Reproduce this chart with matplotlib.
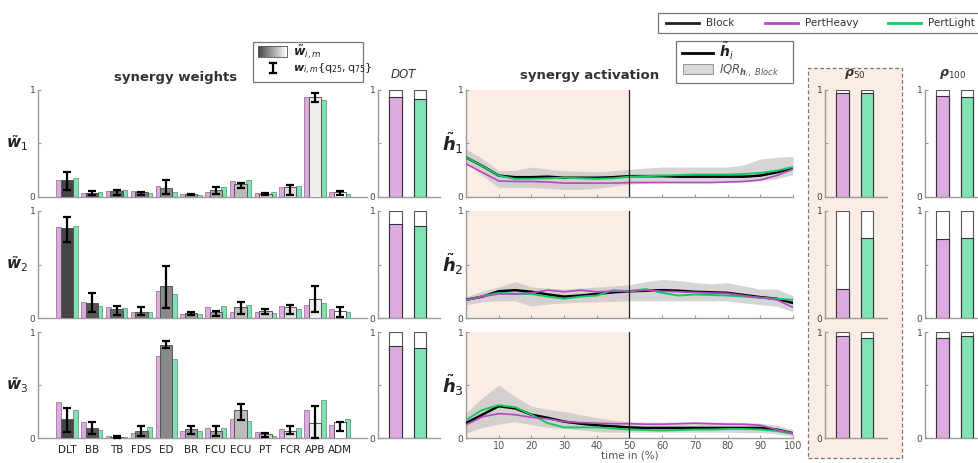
import numpy as np
import matplotlib.pyplot as plt
from matplotlib.patches import Rectangle
from matplotlib.lines import Line2D

plt.rcParams['font.family'] = 'DejaVu Sans'
plt.rcParams['mathtext.fontset'] = 'custom'
plt.rcParams['mathtext.bf'] = 'DejaVu Sans:bold:italic'
plt.rcParams['mathtext.it'] = 'DejaVu Sans:italic'
plt.rcParams['mathtext.rm'] = 'DejaVu Sans'

# ---- data ----
muscles = ["DLT", "BB", "TB", "FDS", "ED", "BR", "FCU", "ECU", "PT", "FCR", "APB", "ADM"]

# synergy weights (rows = synergy 1..3)
w_block = [
    [0.16, 0.04, 0.06, 0.045, 0.08, 0.025, 0.07, 0.12, 0.03, 0.09, 0.93, 0.045],
    [0.84, 0.14, 0.08, 0.06, 0.30, 0.05, 0.06, 0.10, 0.07, 0.10, 0.18, 0.07],
    [0.18, 0.09, 0.01, 0.065, 0.875, 0.085, 0.07, 0.26, 0.04, 0.07, 0.14, 0.15],
]
w_q25 = [
    [0.07, 0.02, 0.02, 0.02, 0.03, 0.015, 0.03, 0.08, 0.02, 0.02, 0.89, 0.015],
    [0.71, 0.06, 0.03, 0.03, 0.09, 0.03, 0.015, 0.04, 0.035, 0.04, 0.06, 0.01],
    [0.06, 0.04, 0.004, 0.015, 0.85, 0.04, 0.02, 0.17, 0.01, 0.04, 0.0, 0.07],
]
w_q75 = [
    [0.23, 0.06, 0.07, 0.05, 0.16, 0.03, 0.09, 0.13, 0.04, 0.11, 0.97, 0.06],
    [0.94, 0.23, 0.11, 0.10, 0.49, 0.06, 0.07, 0.15, 0.08, 0.12, 0.30, 0.10],
    [0.28, 0.155, 0.015, 0.11, 0.915, 0.115, 0.11, 0.32, 0.05, 0.11, 0.30, 0.15],
]
w_heavy = [
    [0.16, 0.04, 0.06, 0.055, 0.10, 0.03, 0.05, 0.15, 0.04, 0.09, 0.93, 0.05],
    [0.85, 0.15, 0.10, 0.06, 0.25, 0.04, 0.10, 0.06, 0.055, 0.11, 0.125, 0.08],
    [0.34, 0.15, 0.015, 0.045, 0.77, 0.07, 0.09, 0.18, 0.055, 0.085, 0.265, 0.125],
]
w_light = [
    [0.18, 0.05, 0.07, 0.04, 0.05, 0.02, 0.09, 0.16, 0.05, 0.10, 0.91, 0.03],
    [0.86, 0.11, 0.09, 0.06, 0.22, 0.04, 0.11, 0.125, 0.05, 0.08, 0.14, 0.055],
    [0.26, 0.08, 0.008, 0.10, 0.75, 0.07, 0.09, 0.165, 0.02, 0.09, 0.36, 0.18],
]

# similarity bars (PertHeavy, PertLight)
dot_vals = [[0.93, 0.92], [0.875, 0.856], [0.866, 0.85]]
rho50_vals = [[0.97, 0.97], [0.27, 0.75], [0.96, 0.94]]
rho100_vals = [[0.94, 0.93], [0.74, 0.75], [0.94, 0.96]]

# synergy activation, sampled every 5 %
time_pct = [0, 5, 10, 15, 20, 25, 30, 35, 40, 45, 50, 55, 60, 65, 70, 75, 80, 85, 90, 95, 100]
h_block = [
    [0.37, 0.29, 0.20, 0.185, 0.185, 0.19, 0.18, 0.18, 0.18, 0.185, 0.195, 0.195, 0.195, 0.19, 0.19, 0.19, 0.19, 0.19, 0.20, 0.23, 0.27],
    [0.17, 0.20, 0.25, 0.26, 0.245, 0.22, 0.20, 0.21, 0.225, 0.24, 0.25, 0.255, 0.26, 0.255, 0.245, 0.24, 0.235, 0.215, 0.195, 0.18, 0.14],
    [0.14, 0.22, 0.30, 0.28, 0.22, 0.19, 0.155, 0.135, 0.12, 0.11, 0.10, 0.095, 0.095, 0.095, 0.095, 0.095, 0.095, 0.095, 0.095, 0.08, 0.045],
]
h_heavy = [
    [0.31, 0.23, 0.15, 0.145, 0.145, 0.14, 0.13, 0.13, 0.13, 0.13, 0.135, 0.135, 0.135, 0.135, 0.135, 0.135, 0.14, 0.145, 0.16, 0.20, 0.26],
    [0.17, 0.20, 0.225, 0.225, 0.235, 0.26, 0.245, 0.26, 0.245, 0.25, 0.25, 0.26, 0.25, 0.245, 0.24, 0.235, 0.23, 0.21, 0.19, 0.17, 0.10],
    [0.125, 0.20, 0.23, 0.22, 0.195, 0.18, 0.155, 0.145, 0.14, 0.135, 0.135, 0.13, 0.13, 0.135, 0.14, 0.135, 0.13, 0.13, 0.12, 0.08, 0.045],
]
h_light = [
    [0.37, 0.29, 0.20, 0.17, 0.17, 0.175, 0.18, 0.175, 0.17, 0.175, 0.19, 0.195, 0.20, 0.205, 0.21, 0.21, 0.21, 0.215, 0.225, 0.245, 0.28],
    [0.165, 0.205, 0.235, 0.225, 0.225, 0.20, 0.18, 0.20, 0.21, 0.26, 0.25, 0.27, 0.235, 0.21, 0.22, 0.215, 0.21, 0.20, 0.19, 0.18, 0.17],
    [0.17, 0.265, 0.31, 0.29, 0.22, 0.14, 0.10, 0.10, 0.10, 0.09, 0.08, 0.075, 0.07, 0.075, 0.08, 0.08, 0.085, 0.085, 0.08, 0.065, 0.04],
]
iqr_lo = [
    [0.32, 0.20, 0.09, 0.09, 0.09, 0.08, 0.07, 0.07, 0.08, 0.10, 0.12, 0.13, 0.135, 0.14, 0.14, 0.14, 0.14, 0.14, 0.15, 0.17, 0.21],
    [0.125, 0.15, 0.16, 0.16, 0.11, 0.13, 0.14, 0.15, 0.15, 0.155, 0.16, 0.16, 0.16, 0.16, 0.16, 0.16, 0.16, 0.14, 0.125, 0.11, 0.06],
    [0.045, 0.10, 0.13, 0.155, 0.125, 0.10, 0.09, 0.075, 0.06, 0.055, 0.055, 0.055, 0.055, 0.055, 0.055, 0.055, 0.055, 0.05, 0.05, 0.04, 0.015],
]
iqr_hi = [
    [0.45, 0.36, 0.245, 0.25, 0.28, 0.26, 0.245, 0.24, 0.235, 0.245, 0.26, 0.27, 0.28, 0.28, 0.28, 0.28, 0.28, 0.30, 0.355, 0.37, 0.38],
    [0.20, 0.25, 0.29, 0.34, 0.29, 0.28, 0.27, 0.28, 0.29, 0.30, 0.31, 0.34, 0.36, 0.35, 0.33, 0.32, 0.33, 0.30, 0.27, 0.27, 0.21],
    [0.235, 0.38, 0.50, 0.39, 0.30, 0.27, 0.25, 0.22, 0.19, 0.17, 0.155, 0.15, 0.15, 0.15, 0.15, 0.15, 0.15, 0.145, 0.14, 0.12, 0.08],
]

# ---- styles ----
C_HEAVY = "#b448c6"
C_LIGHT = "#17c766"
F_HEAVY = "#dcaade"
F_LIGHT = "#7fe3b3"
PEACH = "#fbece5"
SPINE = "#9a9a9a"
TXT = "#444444"

W, H = 979, 463
fig = plt.figure(figsize=(W / 100, H / 100), dpi=100)


def fbox(x0, y0, x1, y1):
    # pixel box (top-left origin) -> figure rect
    return [x0 / W, 1 - y1 / H, (x1 - x0) / W, (y1 - y0) / H]


rows_px = [(90, 197), (211, 318), (332, 438)]

# dashed box behind rho50
fig.patches.append(Rectangle((808 / W, 1 - 458 / H), (902 - 808) / W, (458 - 68) / H,
                             transform=fig.transFigure, facecolor=PEACH, edgecolor="#777777",
                             linestyle=(0, (3, 2)), linewidth=0.9, zorder=-5))


def style_axes(ax):
    for s in ["top", "right"]:
        ax.spines[s].set_visible(False)
    for s in ["left", "bottom"]:
        ax.spines[s].set_color(SPINE)
        ax.spines[s].set_linewidth(1.0)
    ax.set_ylim(0, 1)
    ax.set_yticks([0, 0.5, 1])
    ax.set_yticklabels(["0", "", "1"])
    ax.tick_params(axis="both", direction="in", length=2.5, color=SPINE, labelsize=6.5,
                   labelcolor=TXT, pad=2)
    ax.patch.set_alpha(0)


gray_shades = np.linspace(0.27, 1.0, len(muscles))
xpos = np.arange(1, len(muscles) + 1)


def sim_panel(ax, vals):
    style_axes(ax)
    for j, (v, fc) in enumerate(zip(vals, [F_HEAVY, F_LIGHT])):
        ax.bar(j + 1, 1.0, width=0.5, color="white", edgecolor="#555555", linewidth=0.8, zorder=2)
        ax.bar(j + 1, v, width=0.5, color=fc, edgecolor="#333333", linewidth=0.8, zorder=3)
    ax.set_xlim(0.3, 2.8)
    ax.set_xticks([1, 2])
    ax.set_xticklabels([])
    ax.tick_params(axis="x", length=2)


for r, (y0, y1) in enumerate(rows_px):
    # synergy weights
    ax = fig.add_axes(fbox(38, y0, 367, y1))
    style_axes(ax)
    ax.bar(xpos - 0.33, w_heavy[r], width=0.2, color=F_HEAVY, edgecolor="#8a6a8a", linewidth=0.5, zorder=2)
    ax.bar(xpos + 0.33, w_light[r], width=0.2, color=F_LIGHT, edgecolor="#5a8a72", linewidth=0.5, zorder=2)
    ax.bar(xpos, w_block[r], width=0.5, color=[str(g) for g in gray_shades],
           edgecolor="#555555", linewidth=0.7, zorder=3)
    yerr = [np.array(w_block[r]) - np.array(w_q25[r]), np.array(w_q75[r]) - np.array(w_block[r])]
    ax.errorbar(xpos, w_block[r], yerr=yerr, fmt="none", ecolor="black", elinewidth=1.6,
                capsize=3, capthick=1.6, zorder=4, clip_on=False)
    ax.set_xlim(-0.17, 13.1)
    ax.set_xticks(xpos)
    if r == 2:
        ax.set_xticklabels(muscles, fontsize=7.5, color="#222222")
        ax.tick_params(axis="x", length=0, pad=5)
    else:
        ax.set_xticklabels([])
        ax.tick_params(axis="x", length=0)
    fig.text(17 / W, 1 - ((y0 + y1) / 2) / H, r"$\tilde{\mathbf{w}}_{\mathit{%d}}$" % (r + 1),
             fontsize=11, ha="center", va="center", color="#222222")

    # DOT
    ax = fig.add_axes(fbox(378, y0, 440, y1))
    sim_panel(ax, dot_vals[r])

    # synergy activation
    ax = fig.add_axes(fbox(466, y0, 793, y1))
    style_axes(ax)
    ax.axvspan(0, 50, color=PEACH, zorder=0, linewidth=0)
    ax.fill_between(time_pct, iqr_lo[r], iqr_hi[r], color="#c4c4c4", alpha=0.7, linewidth=0, zorder=1)
    ax.axvline(50, color="#222222", linewidth=0.9, zorder=5)
    ax.plot(time_pct, h_block[r], color="black", linewidth=1.8, zorder=3)
    ax.plot(time_pct, h_light[r], color=C_LIGHT, linewidth=1.4, zorder=4)
    ax.plot(time_pct, h_heavy[r], color=C_HEAVY, linewidth=1.2, zorder=4)
    ax.set_xlim(0, 100)
    ax.set_xticks(np.arange(10, 101, 10))
    if r == 2:
        ax.tick_params(axis="x", labelsize=7, labelcolor="#555555", pad=2)
        ax.set_xlabel("time in (%)", fontsize=7.5, color="#555555", labelpad=0)
    else:
        ax.set_xticklabels([])
    fig.text(453 / W, 1 - ((y0 + y1) / 2) / H, r"$\tilde{\mathbf{h}}_{\mathit{%d}}$" % (r + 1),
             fontsize=13, ha="center", va="center", color="#222222")

    # rho50 / rho100
    ax = fig.add_axes(fbox(825, y0, 887, y1))
    sim_panel(ax, rho50_vals[r])
    ax = fig.add_axes(fbox(925, y0, 987, y1))
    sim_panel(ax, rho100_vals[r])

# titles
fig.text(176 / W, 1 - 77 / H, "synergy weights", fontsize=9.5, fontweight="bold", ha="center",
         va="center", color="#333333")
fig.text(403 / W, 1 - 75 / H, "DOT", fontsize=8.5, style="italic", ha="center", va="center",
         color="#333333")
fig.text(590 / W, 1 - 75 / H, "synergy activation", fontsize=9.5, fontweight="bold", ha="center",
         va="center", color="#333333")
fig.text(855 / W, 1 - 74 / H, r"$\mathbf{\rho}_{\mathit{50}}$", fontsize=9, ha="center",
         va="center", color="#333333")
fig.text(953 / W, 1 - 74 / H, r"$\mathbf{\rho}_{\mathit{100}}$", fontsize=9, ha="center",
         va="center", color="#333333")

# legend: synergy weights
fig.patches.append(Rectangle((253 / W, 1 - 82 / H), 110 / W, 40 / H, transform=fig.transFigure,
                             facecolor="white", edgecolor="#777777", linewidth=0.9))
gax = fig.add_axes(fbox(258, 46, 287, 57))
gax.set_zorder(5)
gax.imshow(np.linspace(0.27, 1.0, 50)[None, :], cmap="gray", vmin=0, vmax=1, aspect="auto")
gax.set_xticks([])
gax.set_yticks([])
for s in gax.spines.values():
    s.set_color("#555555")
    s.set_linewidth(0.6)
fig.text(293 / W, 1 - 52 / H, r"$\tilde{\mathbf{w}}_{\mathit{i,m}}$", fontsize=9, va="center",
         color="#222222")
fig.lines.append(Line2D([273 / W, 273 / W], [1 - 63 / H, 1 - 73 / H], transform=fig.transFigure,
                        color="black", linewidth=1.6))
for yy in (63, 73):
    fig.lines.append(Line2D([270 / W, 276 / W], [1 - yy / H, 1 - yy / H], transform=fig.transFigure,
                            color="black", linewidth=1.6))
fig.text(293 / W, 1 - 69 / H, r"$\mathbf{w}_{\mathit{i,m}}\{\mathrm{q}_{25},\mathrm{q}_{75}\}$",
         fontsize=8, va="center", color="#222222")

# legend: synergy activation
fig.patches.append(Rectangle((676 / W, 1 - 83 / H), 117 / W, 42 / H, transform=fig.transFigure,
                             facecolor="white", edgecolor="#777777", linewidth=0.9))
fig.lines.append(Line2D([682 / W, 713 / W], [1 - 53 / H, 1 - 53 / H], transform=fig.transFigure,
                        color="black", linewidth=2))
fig.text(719 / W, 1 - 51 / H, r"$\tilde{\mathbf{h}}_{\mathit{i}}$", fontsize=10, va="center",
         color="#222222")
fig.patches.append(Rectangle((683 / W, 1 - 74 / H), 30 / W, 10 / H, transform=fig.transFigure,
                             facecolor="#d8d8d8", edgecolor="#888888", linewidth=0.6))
fig.text(719 / W, 1 - 71 / H, r"$IQR_{\mathbf{h}_{\mathit{i}},\ Block}$", fontsize=8.5,
         va="center", color="#555555", family="DejaVu Serif")

# legend: conditions
fig.patches.append(Rectangle((658 / W, 1 - 33 / H), 340 / W, 20 / H, transform=fig.transFigure,
                             facecolor="white", edgecolor="#777777", linewidth=0.9))
for x0, col, lab in [(666, "#222222", "Block"), (765, C_HEAVY, "PertHeavy"), (888, C_LIGHT, "PertLight")]:
    fig.lines.append(Line2D([x0 / W, (x0 + 33) / W], [1 - 23 / H, 1 - 23 / H],
                            transform=fig.transFigure, color=col, linewidth=2))
    fig.text((x0 + 40) / W, 1 - 23 / H, lab, fontsize=7.5, va="center", color="#333333")

fig.savefig("out.png", dpi=100)
